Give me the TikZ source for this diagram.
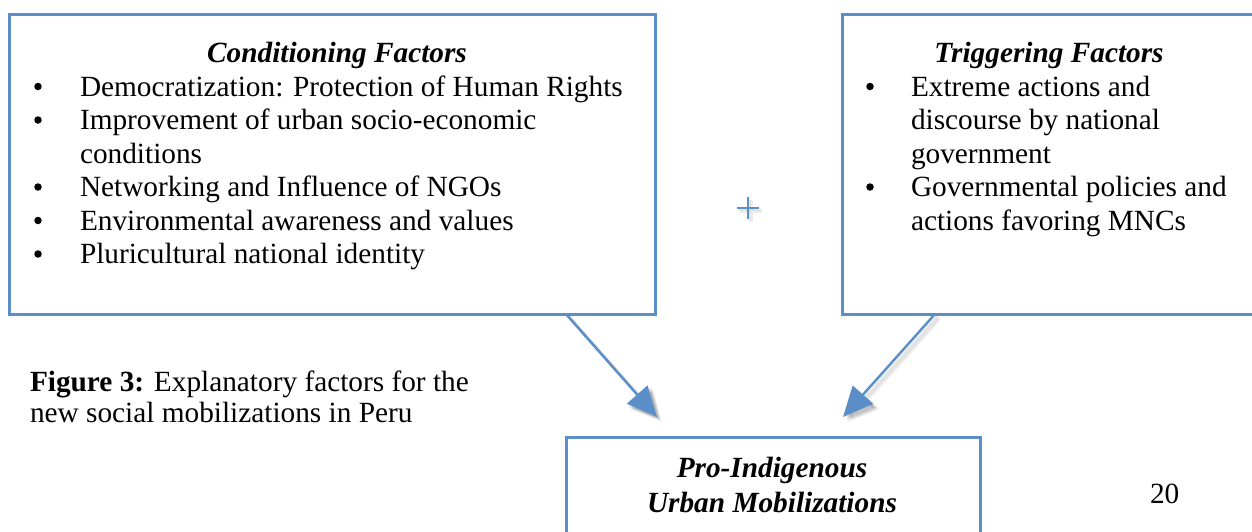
\documentclass[tikz,border=0pt]{standalone}
\usepackage{fontspec}
\setmainfont{Liberation Serif}
\usetikzlibrary{arrows.meta}
\definecolor{frameblue}{RGB}{91,143,201}
\tikzset{
  factorbox/.style={draw=frameblue, line width=3pt, rectangle, inner sep=0pt,
    outer sep=0pt, anchor=north west},
  txt/.style={inner sep=0pt, outer sep=0pt, anchor=base west,
    font=\fontsize{29.3}{33.7}\selectfont},
  bul/.style={circle, fill=black, inner sep=0pt, minimum size=7.5pt,
    yshift=9.5pt},
  heading/.style={txt, anchor=base,
    font=\fontsize{29.3}{33.7}\selectfont\bfseries\itshape},
  flow/.style={draw=frameblue, line width=2.4pt,
    -{Triangle[length=30pt,width=27pt]}},
  flowshade/.style={draw=black, opacity=0.05, line width=3pt,
    -{Triangle[length=30pt,width=29pt]}},
  plusline/.style={draw=frameblue, line width=2pt}
}
\begin{document}
\begin{tikzpicture}[x=1pt,y=-1pt]
\useasboundingbox (0,0) rectangle (1252,531);

% frames
\node[factorbox, minimum width=646pt, minimum height=300pt] (cond) at (9,14) {};
\node[factorbox, minimum width=430pt, minimum height=300pt] (trig) at (842,14) {};
\node[factorbox, minimum width=414pt, minimum height=140pt] (mob) at (566,437) {};

% conditioning factors
\node[heading] (condhead) at (337,62) {Conditioning Factors};
\foreach \y/\t [count=\i] in {96/{Democratization: Protection of Human Rights},
    129.5/{Improvement of urban socio-economic},
    196.5/{Networking and Influence of NGOs},
    230/{Environmental awareness and values},
    263.5/{Pluricultural national identity}} {
  \node[bul] (cb\i) at (38,\y) {};
  \node[txt] (ct\i) at (80,\y) {\t};
}
\node[txt] (ct2b) at (80,163) {conditions};

% triggering factors
\node[heading] (trighead) at (1049,62) {Triggering Factors};
\node[bul] (tb1) at (870,96) {};
\node[txt] (tt1) at (911,96) {Extreme actions and};
\node[txt] (tt1b) at (911,129.5) {discourse by national};
\node[txt] (tt1c) at (911,163) {government};
\node[bul] (tb2) at (870,196.5) {};
\node[txt] (tt2) at (911,196.5) {Governmental policies and};
\node[txt] (tt2b) at (911,230) {actions favoring MNCs};

% plus sign with a faint shadow
\coordinate (plus) at (748,208);
\foreach \s in {1.5,3} {
  \draw[black, opacity=0.07, line width=3pt]
    ([xshift=-11pt+\s pt,yshift=-\s pt]plus) -- ([xshift=11pt+\s pt,yshift=-\s pt]plus)
    ([xshift=\s pt,yshift=11pt-\s pt]plus) -- ([xshift=\s pt,yshift=-11pt-\s pt]plus);
}
\draw[plusline] ([xshift=-11pt]plus) -- ([xshift=11pt]plus)
  ([yshift=11pt]plus) -- ([yshift=-11pt]plus);

% outcome
\node[heading] (mobhead1) at (772,477) {Pro-Indigenous};
\node[heading] (mobhead2) at (772,512) {Urban Mobilizations};

% arrows with a soft shadow
\foreach \s in {2,3,4,5} {
  \draw[flowshade] ([xshift=557pt+\s pt,yshift=-\s pt]cond.south west)
    -- ([xshift=91pt+\s pt,yshift=20pt-\s pt]mob.north west);
  \draw[flowshade] ([xshift=93pt+\s pt,yshift=-\s pt]trig.south west)
    -- ([xshift=277pt+\s pt,yshift=20pt-\s pt]mob.north west);
}
\draw[flow] ([xshift=557pt]cond.south west) -- ([xshift=91pt,yshift=20pt]mob.north west);
\draw[flow] ([xshift=93pt]trig.south west) -- ([xshift=277pt,yshift=20pt]mob.north west);

% caption and page number
\node[txt] (cap1) at (30,391) {\textbf{Figure 3:} Explanatory factors for the};
\node[txt] (cap2) at (30,422) {new social mobilizations in Peru};
\node[txt] (page) at (1150,503) {20};
\end{tikzpicture}
\end{document}
